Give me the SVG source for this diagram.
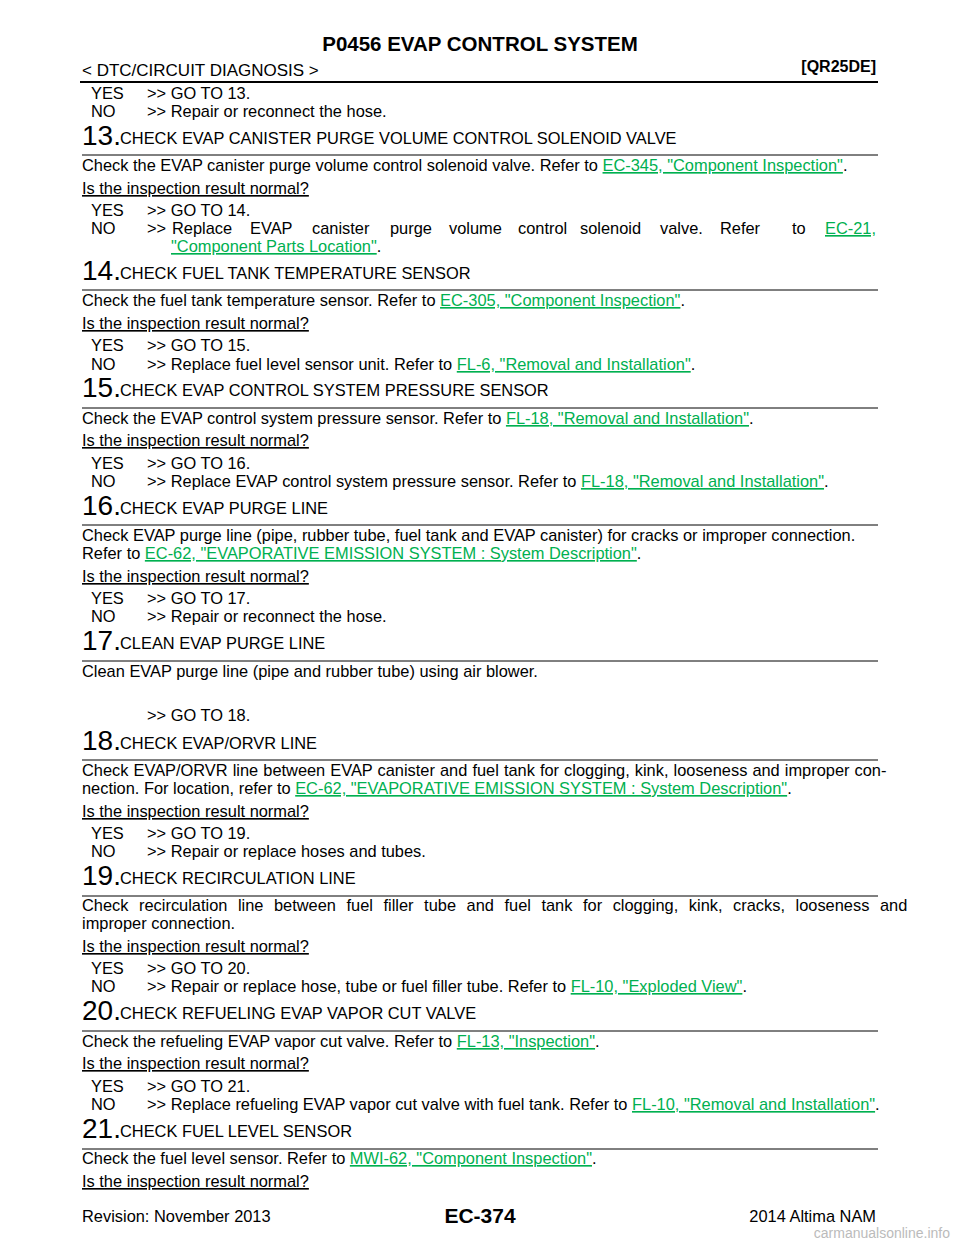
<svg xmlns="http://www.w3.org/2000/svg" width="960" height="1242" viewBox="0 0 960 1242">
<style>
text{font-family:"Liberation Sans",Arial,sans-serif;font-size:16.4px;fill:#000}
.h{font-weight:bold}
.n{font-size:28px}
.l{fill:#00b050;text-decoration:underline}
.u{text-decoration:underline}
.r{stroke:#000;stroke-width:1}
</style>
<rect width="960" height="1242" fill="#fff"/>
<text x="480" y="51" class="h" text-anchor="middle" style="font-size:20.5px">P0456 EVAP CONTROL SYSTEM</text>
<text x="82" y="76" style="font-size:17px">&lt; DTC/CIRCUIT DIAGNOSIS &gt;</text>
<text x="876" y="72" class="h" text-anchor="end" style="font-size:16px">[QR25DE]</text>
<line x1="80" y1="82" x2="878" y2="82" stroke="#000" stroke-width="2"/>
<g class="r">
<line x1="82" y1="155" x2="878" y2="155"/><line x1="82" y1="290" x2="878" y2="290"/>
<line x1="82" y1="408" x2="878" y2="408"/><line x1="82" y1="525" x2="878" y2="525"/>
<line x1="82" y1="661" x2="878" y2="661"/><line x1="82" y1="760" x2="878" y2="760"/>
<line x1="82" y1="896" x2="878" y2="896"/><line x1="82" y1="1031" x2="878" y2="1031"/>
<line x1="82" y1="1149" x2="878" y2="1149"/>
</g>
<text x="91" y="99">YES</text><text x="147" y="99">&gt;&gt; GO TO 13.</text>
<text x="91" y="117">NO</text><text x="147" y="117">&gt;&gt; Repair or reconnect the hose.</text>
<text x="82" y="145" class="n">13.</text><text x="120" y="144">CHECK EVAP CANISTER PURGE VOLUME CONTROL SOLENOID VALVE</text>
<text x="82" y="171">Check the EVAP canister purge volume control solenoid valve. Refer to <tspan class="l">EC-345, "Component Inspection"</tspan>.</text>
<text x="82" y="194" class="u">Is the inspection result normal?</text>
<text x="91" y="216">YES</text><text x="147" y="216">&gt;&gt; GO TO 14.</text>
<text x="91" y="234">NO</text>
<text y="234"><tspan x="147">&gt;&gt;</tspan><tspan x="172">Replace</tspan><tspan x="250">EVAP</tspan><tspan x="312">canister</tspan><tspan x="390">purge</tspan><tspan x="449">volume</tspan><tspan x="518">control</tspan><tspan x="580">solenoid</tspan><tspan x="660">valve.</tspan><tspan x="720">Refer</tspan><tspan x="792">to</tspan><tspan x="825" class="l">EC-21,</tspan></text>
<text x="171" y="252"><tspan class="l">"Component Parts Location"</tspan>.</text>
<text x="82" y="280" class="n">14.</text><text x="120" y="279">CHECK FUEL TANK TEMPERATURE SENSOR</text>
<text x="82" y="306">Check the fuel tank temperature sensor. Refer to <tspan class="l">EC-305, "Component Inspection"</tspan>.</text>
<text x="82" y="329" class="u">Is the inspection result normal?</text>
<text x="91" y="351">YES</text><text x="147" y="351">&gt;&gt; GO TO 15.</text>
<text x="91" y="370">NO</text><text x="147" y="370">&gt;&gt; Replace fuel level sensor unit. Refer to <tspan class="l">FL-6, "Removal and Installation"</tspan>.</text>
<text x="82" y="397" class="n">15.</text><text x="120" y="396">CHECK EVAP CONTROL SYSTEM PRESSURE SENSOR</text>
<text x="82" y="424">Check the EVAP control system pressure sensor. Refer to <tspan class="l">FL-18, "Removal and Installation"</tspan>.</text>
<text x="82" y="446" class="u">Is the inspection result normal?</text>
<text x="91" y="469">YES</text><text x="147" y="469">&gt;&gt; GO TO 16.</text>
<text x="91" y="487">NO</text><text x="147" y="487">&gt;&gt; Replace EVAP control system pressure sensor. Refer to <tspan class="l">FL-18, "Removal and Installation"</tspan>.</text>
<text x="82" y="515" class="n">16.</text><text x="120" y="514">CHECK EVAP PURGE LINE</text>
<text x="82" y="541">Check EVAP purge line (pipe, rubber tube, fuel tank and EVAP canister) for cracks or improper connection.</text>
<text x="82" y="559">Refer to <tspan class="l">EC-62, "EVAPORATIVE EMISSION SYSTEM : System Description"</tspan>.</text>
<text x="82" y="582" class="u">Is the inspection result normal?</text>
<text x="91" y="604">YES</text><text x="147" y="604">&gt;&gt; GO TO 17.</text>
<text x="91" y="622">NO</text><text x="147" y="622">&gt;&gt; Repair or reconnect the hose.</text>
<text x="82" y="650" class="n">17.</text><text x="120" y="649">CLEAN EVAP PURGE LINE</text>
<text x="82" y="677">Clean EVAP purge line (pipe and rubber tube) using air blower.</text>
<text x="147" y="721">&gt;&gt; GO TO 18.</text>
<text x="82" y="750" class="n">18.</text><text x="120" y="749">CHECK EVAP/ORVR LINE</text>
<text x="82" y="776" word-spacing="0.5">Check EVAP/ORVR line between EVAP canister and fuel tank for clogging, kink, looseness and improper con-</text>
<text x="82" y="794">nection. For location, refer to <tspan class="l">EC-62, "EVAPORATIVE EMISSION SYSTEM : System Description"</tspan>.</text>
<text x="82" y="817" class="u">Is the inspection result normal?</text>
<text x="91" y="839">YES</text><text x="147" y="839">&gt;&gt; GO TO 19.</text>
<text x="91" y="857">NO</text><text x="147" y="857">&gt;&gt; Repair or replace hoses and tubes.</text>
<text x="82" y="885" class="n">19.</text><text x="120" y="884">CHECK RECIRCULATION LINE</text>
<text x="82" y="911" word-spacing="6">Check recirculation line between fuel filler tube and fuel tank for clogging, kink, cracks, looseness and</text>
<text x="82" y="929">improper connection.</text>
<text x="82" y="952" class="u">Is the inspection result normal?</text>
<text x="91" y="974">YES</text><text x="147" y="974">&gt;&gt; GO TO 20.</text>
<text x="91" y="992">NO</text><text x="147" y="992">&gt;&gt; Repair or replace hose, tube or fuel filler tube. Refer to <tspan class="l">FL-10, "Exploded View"</tspan>.</text>
<text x="82" y="1020" class="n">20.</text><text x="120" y="1019">CHECK REFUELING EVAP VAPOR CUT VALVE</text>
<text x="82" y="1047">Check the refueling EVAP vapor cut valve. Refer to <tspan class="l">FL-13, "Inspection"</tspan>.</text>
<text x="82" y="1069" class="u">Is the inspection result normal?</text>
<text x="91" y="1092">YES</text><text x="147" y="1092">&gt;&gt; GO TO 21.</text>
<text x="91" y="1110">NO</text><text x="147" y="1110">&gt;&gt; Replace refueling EVAP vapor cut valve with fuel tank. Refer to <tspan class="l">FL-10, "Removal and Installation"</tspan>.</text>
<text x="82" y="1138" class="n">21.</text><text x="120" y="1137">CHECK FUEL LEVEL SENSOR</text>
<text x="82" y="1164">Check the fuel level sensor. Refer to <tspan class="l">MWI-62, "Component Inspection"</tspan>.</text>
<text x="82" y="1187" class="u">Is the inspection result normal?</text>
<text x="82" y="1222">Revision: November 2013</text>
<text x="480" y="1223" class="h" text-anchor="middle" style="font-size:21px">EC-374</text>
<text x="876" y="1222" text-anchor="end">2014 Altima NAM</text>
<text x="950" y="1238" text-anchor="end" style="font-size:14px;fill:#bbb">carmanualsonline.info</text>
</svg>
